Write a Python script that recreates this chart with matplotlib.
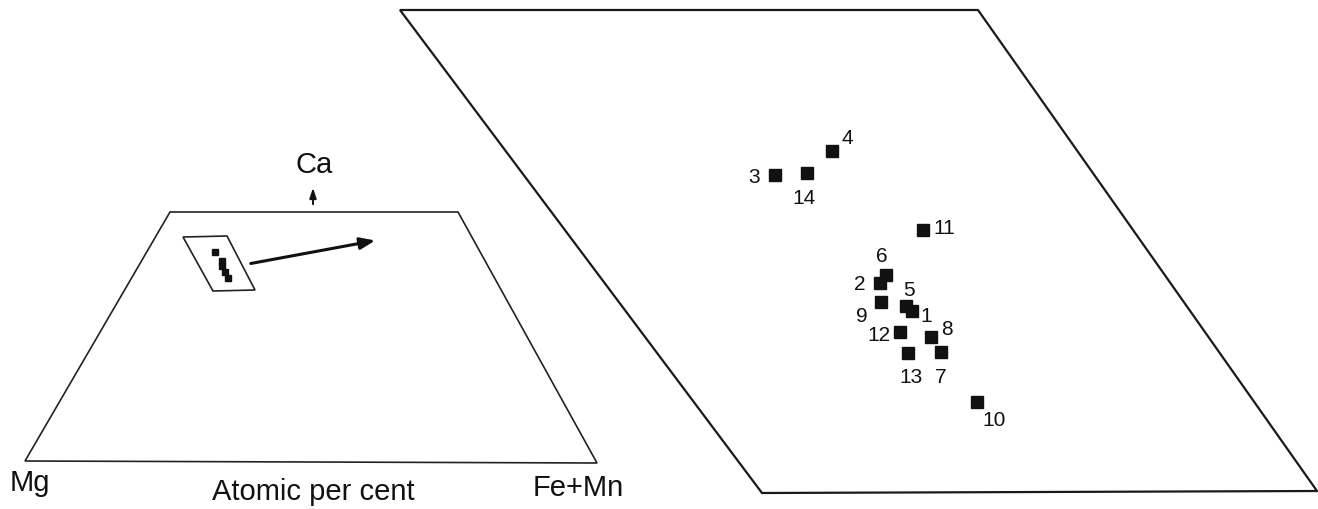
import matplotlib
matplotlib.use("Agg")
from matplotlib import pyplot as plt
from matplotlib.patches import Polygon

plt.rcParams["font.family"] = ["Liberation Sans", "DejaVu Sans"]

# sample compositions, projected (image units) in the enlarged field
sample_ids = ["1", "2", "3", "4", "5", "6", "7", "8", "9", "10", "11", "12", "13", "14"]
sample_x = [912, 880, 775, 832, 906, 886, 941, 931, 881, 977, 923, 900, 908, 807]
sample_y = [312, 284, 176, 152, 307, 276, 353, 338, 303, 403, 231, 333, 354, 174]
label_dx = [14, -20, -21, 15, 3, -4, 0, 16, -19, 17, 21, -21, 3, -3]
label_dy = [5, 1, 2, -13, -16, -20, 25, -8, 14, 18, -2, 3, 24, 25]

# same samples at the scale of the full Mg - Ca - Fe+Mn diagram
small_x = [215, 222, 222, 225, 228]
small_y = [253, 262, 267, 273, 279]

trapezoid = [(170, 213), (458, 213), (597, 464), (25, 462)]
inset_box = [(183, 238), (227, 237), (255, 291), (213, 292)]
big_box = [(400, 11), (978, 11), (1317, 492), (762, 494)]

fig = plt.figure(figsize=(13.18, 5.1), dpi=100)
ax = fig.add_axes([0, 0, 1, 1])
ax.set_xlim(0, 1318)
ax.set_ylim(510, 0)
ax.axis("off")

ax.add_patch(Polygon(trapezoid, closed=True, fill=False, lw=1.2, ec="#222222"))
ax.add_patch(Polygon(inset_box, closed=True, fill=False, lw=1.2, ec="#222222"))
ax.add_patch(Polygon(big_box, closed=True, fill=False, lw=1.6, ec="#1a1a1a"))

ax.plot(small_x, small_y, "s", ms=5, color="#111111", ls="none")
ax.annotate("", xy=(378, 241), xytext=(248, 265),
            arrowprops=dict(arrowstyle="-|>,head_length=0.9,head_width=0.35",
                            lw=2.2, color="#111111"))
ax.annotate("", xy=(313, 186), xytext=(313, 208),
            arrowprops=dict(arrowstyle="-|>,head_length=0.6,head_width=0.2",
                            lw=1.4, color="#111111"))

ax.text(314, 165, "Ca", fontsize=21, ha="center", va="center", color="#111111")
ax.text(30, 483, "Mg", fontsize=21, ha="center", va="center", color="#111111")
ax.text(313, 492, "Atomic per cent", fontsize=21, ha="center", va="center", color="#111111")
ax.text(578, 488, "Fe+Mn", fontsize=21, ha="center", va="center", color="#111111")

ax.plot(sample_x, sample_y, "s", ms=8.5, color="#111111", ls="none")
for sid, x, y, dx, dy in zip(sample_ids, sample_x, sample_y, label_dx, label_dy):
    ax.text(x + dx, y + dy, sid, fontsize=15, ha="center", va="center", color="#111111")

fig.savefig("out.png", dpi=100)
